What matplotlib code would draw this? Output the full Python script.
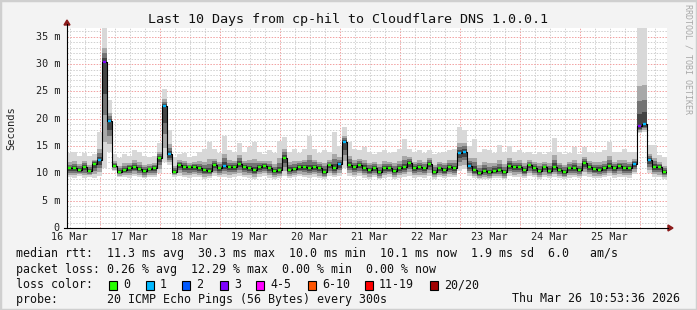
import numpy as np
import matplotlib
matplotlib.use("Agg")
import matplotlib.pyplot as plt
from matplotlib.patches import Polygon, Rectangle
from datetime import datetime, timedelta

# ---------------- data (2 hour steps, ms) ----------------
median = [10.9, 11.0, 10.7, 11.2, 10.5, 11.8, 12.4, 30.3, 19.5, 11.4,
          10.3, 10.7, 11.0, 11.2, 10.8, 10.4, 10.8, 11.0, 12.9, 22.3,
          13.5, 10.3, 11.6, 11.2, 11.1, 11.2, 11.0, 10.6, 10.4, 11.5,
          10.9, 11.4, 11.2, 11.1, 11.8, 11.2, 10.9, 10.6, 11.2, 11.4,
          10.9, 10.4, 10.6, 12.9, 10.7, 10.8, 11.2, 11.2, 10.9, 11.2,
          11.0, 10.3, 11.5, 11.0, 11.7, 15.8, 11.5, 11.1, 11.5, 11.0,
          10.6, 11.0, 10.2, 10.9, 11.0, 10.4, 10.9, 11.2, 11.9, 10.9,
          11.2, 10.9, 11.8, 10.3, 10.9, 10.6, 11.2, 11.0, 13.7, 14.0,
          11.4, 10.6, 10.0, 10.5, 10.2, 10.5, 10.6, 10.2, 11.4, 11.2,
          11.2, 10.6, 11.5, 11.0, 10.4, 11.1, 10.5, 11.2, 10.6, 10.3,
          10.9, 11.0, 10.7, 11.9, 11.2, 10.8, 10.7, 10.9, 11.4, 10.9,
          11.3, 11.0, 10.9, 11.8, 18.6, 19.0, 12.4, 11.2, 11.2, 10.3]

smoke_hi = [13.7, 14.0, 13.2, 13.8, 13.2, 13.5, 17.5, 37.0, 23.4, 13.5,
            12.8, 13.5, 13.2, 14.3, 14.0, 13.2, 13.0, 13.2, 15.5, 25.5,
            18.0, 13.0, 13.5, 13.8, 13.0, 13.2, 14.0, 14.5, 15.8, 14.5,
            13.8, 16.8, 14.2, 14.0, 15.5, 14.0, 14.8, 15.8, 14.0, 13.5,
            14.2, 13.8, 16.0, 16.7, 14.0, 14.5, 13.8, 14.5, 16.9, 14.5,
            13.8, 14.2, 14.0, 17.5, 15.0, 18.5, 15.8, 14.5, 14.2, 14.8,
            14.0, 13.5, 14.0, 14.3, 13.8, 14.0, 14.5, 16.2, 14.5, 14.0,
            14.3, 13.8, 14.3, 13.5, 13.8, 14.0, 14.2, 14.5, 18.5, 18.0,
            15.0, 16.2, 14.0, 14.5, 14.3, 13.8, 15.2, 14.0, 15.0, 14.0,
            14.3, 13.8, 14.0, 13.5, 14.0, 13.5, 14.0, 16.5, 14.0, 13.5,
            13.8, 14.8, 13.5, 14.8, 14.0, 13.8, 14.0, 14.3, 15.8, 14.0,
            14.0, 14.5, 14.0, 14.0, 37.0, 37.0, 15.2, 15.2, 13.3, 13.0]

smoke_lo = [9.3, 9.2, 9.5, 9.1, 9.4, 9.2, 9.6, 11.0, 14.0, 10.4,
            9.3, 9.4, 9.2, 9.5, 9.3, 9.1, 9.4, 9.3, 10.0, 12.0,
            11.5, 9.4, 9.5, 9.3, 9.2, 9.4, 9.3, 9.0, 9.2, 9.5,
            9.3, 9.4, 9.2, 9.4, 9.6, 9.3, 9.2, 9.0, 9.4, 9.5,
            9.2, 9.0, 9.1, 9.6, 9.2, 9.3, 9.5, 9.3, 9.2, 9.4,
            9.1, 8.9, 9.5, 9.3, 9.6, 11.0, 9.6, 9.3, 9.5, 9.2,
            9.0, 9.3, 8.9, 9.2, 9.4, 9.0, 9.2, 9.4, 9.6, 9.2,
            9.3, 9.2, 9.6, 9.0, 9.3, 9.1, 9.4, 9.3, 10.5, 10.8,
            9.6, 9.1, 8.9, 9.0, 8.9, 9.1, 9.2, 8.9, 9.5, 9.3,
            9.4, 9.1, 9.5, 9.3, 9.0, 9.3, 9.1, 9.4, 9.2, 8.9,
            9.2, 9.3, 9.1, 9.6, 9.4, 9.2, 9.1, 9.3, 9.5, 9.2,
            9.4, 9.3, 9.2, 9.8, 17.3, 17.5, 10.0, 9.4, 9.3, 9.0]

# steps where pings were lost, and how many (of 20)
loss_steps = [6, 7, 8, 19, 20, 31, 54, 55, 78, 79, 80, 113, 114, 115, 116]
loss_counts = [1, 3, 1, 1, 1, 1, 1, 1, 1, 1, 1, 1, 3, 1, 1]

loss_labels = ["0", "1", "2", "3", "4-5", "6-10", "11-19", "20/20"]
loss_colors = ["#26ff00", "#00b8ff", "#0059ff", "#7e00ff", "#ff00ff",
               "#ff5500", "#ff0000", "#a10000"]

y_ticks = [0, 5, 10, 15, 20, 25, 30, 35]
end_time = datetime(2026, 3, 26, 10, 53, 36)
start_time = end_time - timedelta(days=10)

# ---------------- figure ----------------
W, H = 697, 310
mono = "DejaVu Sans Mono"
fig = plt.figure(figsize=(W / 100, H / 100), dpi=100, facecolor="#f3f3f3")


def fx(x):
    return x / W


def fy(y):
    return 1 - y / H


ax = fig.add_axes([fx(67), fy(228), 600 / W, 200 / H])
ax.set_facecolor("white")
ax.set_xlim(0, 240)
ax.set_ylim(0, 200 / 5.464)
for s in ax.spines.values():
    s.set_visible(False)
ax.set_xticks([])
ax.set_yticks([])

n = len(median)
edges = np.arange(n + 1) * 2.0
med = np.array(median)
hi = np.array(smoke_hi)
lo = np.array(smoke_lo)

# grid (under the smoke)
hours = []
d = datetime(start_time.year, start_time.month, start_time.day)
while d <= end_time:
    hours.append(((d - start_time).total_seconds() / 3600, d.hour == 0))
    d += timedelta(hours=6)
for h, major in hours:
    if 0 < h < 240:
        ax.axvline(h, color="#f2a0a0" if major else "#cfcfcf", lw=0.7,
                   ls=(0, (1.5, 1.5)), zorder=0.5)
for v in range(1, 37):
    ax.axhline(v, color="#f2a0a0" if v % 5 == 0 else "#cfcfcf", lw=0.7,
               ls=(0, (1.5, 1.5)), zorder=0.5)

# smoke, drawn light to dark
up_frac = [1.0, 0.4, 0.25, 0.12]
dn_frac = [1.0, 0.75, 0.5, 0.3]
greys = ["#d8d8d8", "#a8a8a8", "#747474", "#444444"]
for fu, fd, g in zip(up_frac, dn_frac, greys):
    top = med + (hi - med) * fu
    bot = med - (med - lo) * fd
    ax.fill_between(edges, np.append(bot, bot[-1]), np.append(top, top[-1]),
                    step="post", color=g, lw=0, zorder=1)

# median line with loss colours
ax.step(edges, np.append(med, med[-1]), where="post", color="black", lw=0.8, zorder=3)
seg_col = [loss_colors[0]] * n
for i, c in zip(loss_steps, loss_counts):
    k = 1 if c == 1 else 2 if c == 2 else 3 if c == 3 else 4 if c <= 5 else 5
    seg_col[i] = loss_colors[k]
ax.hlines(med, edges[:-1] + 0.3, edges[1:] - 0.3, colors=seg_col, lw=1.7, zorder=4)

# axes lines + arrows
fig.add_artist(plt.Line2D([fx(67), fx(67)], [fy(228), fy(24)], color="black", lw=0.8))
fig.add_artist(plt.Line2D([fx(64), fx(668)], [fy(228), fy(228)], color="black", lw=0.8))
fig.add_artist(Polygon([(fx(64), fy(25)), (fx(70), fy(25)), (fx(67), fy(20))],
                       closed=True, color="#8b1a1a", transform=fig.transFigure))
fig.add_artist(Polygon([(fx(668), fy(225)), (fx(668), fy(231)), (fx(673), fy(228))],
                       closed=True, color="#8b1a1a", transform=fig.transFigure))

# tick labels
for v in y_ticks:
    ax.text(-7 * 240 / 600, v, f"{v} m" if v else "0", ha="right", va="center",
            fontsize=7.3, family=mono, color="#222222")
for day in range(16, 26):
    noon = datetime(2026, 3, day, 12)
    h = (noon - start_time).total_seconds() / 3600
    fig.text(fx(67 + h * 2.5), fy(237), f"{day} Mar", ha="center", va="center",
             fontsize=7.3, family=mono, color="#222222")

fig.text(fx(348.5), fy(19), "Last 10 Days from cp-hil to Cloudflare DNS 1.0.0.1",
         ha="center", va="center", fontsize=9.6, family=mono, color="#111111")
fig.text(fx(11), fy(128), "Seconds", rotation=90, ha="center", va="center",
         fontsize=7.5, family=mono, color="#222222")
fig.text(fx(688), fy(4), "RRDTOOL / TOBI OETIKER", rotation=270, ha="center", va="top",
         fontsize=6, family=mono, color="#a8a8a8")

# legend
fs = 8.4
legend_rows = [
    (254, "median rtt:  11.3 ms avg  30.3 ms max  10.0 ms min  10.1 ms now  1.9 ms sd  6.0   am/s"),
    (270, "packet loss: 0.26 % avg  12.29 % max  0.00 % min  0.00 % now"),
    (285, "loss color:"),
    (299, "probe:       20 ICMP Echo Pings (56 Bytes) every 300s"),
]
for y, t in legend_rows:
    fig.text(fx(16), fy(y), t, ha="left", va="center", fontsize=fs, family=mono, color="#111111")

box_x = [109, 146, 182, 220, 256, 308, 365, 430]
for lab, col, bx in zip(loss_labels, loss_colors, box_x):
    fig.add_artist(Rectangle((fx(bx), fy(289.5)), 8 / W, 9 / H, facecolor=col,
                             edgecolor="black", lw=0.8, transform=fig.transFigure))
    fig.text(fx(bx + 14), fy(285), lab, ha="left", va="center", fontsize=fs, family=mono, color="#111111")

fig.text(fx(680), fy(299), "Thu Mar 26 10:53:36 2026", ha="right", va="center",
         fontsize=fs, family=mono, color="#111111")

# frame
fig.add_artist(Rectangle((0, 0), 1, 1, fill=False, edgecolor="#cfcfcf", lw=2.5,
                         transform=fig.transFigure))

fig.savefig("out.png", dpi=100, facecolor=fig.get_facecolor())
